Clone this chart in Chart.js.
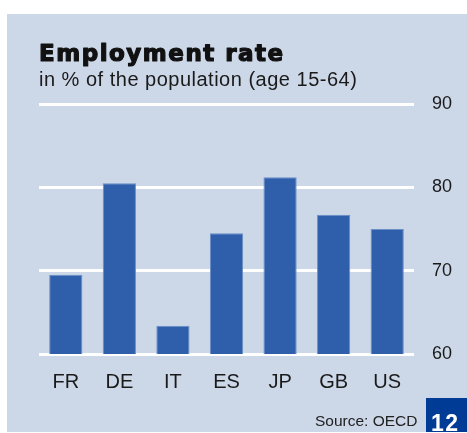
<!DOCTYPE html>
<html>
<head>
<meta charset="utf-8">
<script src="https://cdn.jsdelivr.net/npm/chart.js@4"></script>
<style>
  body { margin: 0; background: #fff; }
  #wrap { width: 467px; height: 433px; position: relative; }
</style>
</head>
<body>
<div id="wrap"><canvas id="chart"></canvas></div>
<script>
const countries = ['FR', 'DE', 'IT', 'ES', 'JP', 'GB', 'US'];
const employment = [69.5, 80.5, 63.4, 74.5, 81.2, 76.7, 75.0];
const yTicks = [60, 70, 80, 90];

const title = 'Employment rate';
const subtitle = 'in % of the population (age 15-64)';
const source = 'Source: OECD';
const pageNo = '12';

const panelBg = '#ccd7e8';
const barBlue = '#2f5eab';

// background panel, headings, source line and page box
const decor = {
  id: 'decor',
  beforeDraw(chart) {
    const ctx = chart.ctx;
    ctx.save();
    ctx.fillStyle = '#fff';
    ctx.fillRect(0, 0, chart.width, chart.height);
    ctx.fillStyle = panelBg;
    ctx.fillRect(7, 14, chart.width - 7, 418);
    ctx.restore();
  },
  afterDraw(chart) {
    const ctx = chart.ctx;
    ctx.save();
    ctx.textBaseline = 'alphabetic';
    ctx.textAlign = 'left';

    ctx.fillStyle = '#111';
    ctx.strokeStyle = '#111';
    ctx.lineWidth = 1.2;
    ctx.lineJoin = 'round';
    ctx.font = 'bold 23px "DejaVu Sans"';
    ctx.letterSpacing = '1.5px';
    ctx.fillText(title, 39, 61);
    ctx.strokeText(title, 39, 61);

    ctx.font = '20px "Liberation Sans"';
    ctx.letterSpacing = '0.5px';
    ctx.fillStyle = '#1a1a1a';
    ctx.fillText(subtitle, 39, 86);

    ctx.letterSpacing = '0px';
    ctx.font = '15.5px "Liberation Sans"';
    ctx.fillStyle = '#222';
    ctx.fillText(source, 315, 426);

    ctx.fillStyle = '#003c96';
    ctx.fillRect(426, 398, chart.width - 426, 34);
    ctx.fillStyle = '#fff';
    ctx.font = 'bold 23px "Liberation Sans"';
    ctx.letterSpacing = '1.5px';
    ctx.fillText(pageNo, 431, 431);
    ctx.restore();
  }
};

new Chart(document.getElementById('chart'), {
  type: 'bar',
  data: {
    labels: countries,
    datasets: [{
      data: employment,
      backgroundColor: barBlue,
      borderColor: '#6a8ec6',
      borderWidth: 1,
      barPercentage: 0.62,
      categoryPercentage: 1
    }]
  },
  options: {
    responsive: true,
    maintainAspectRatio: false,
    animation: false,
    layout: { padding: { left: 39, top: 104, right: 0, bottom: 0 } },
    plugins: {
      legend: { display: false },
      title: { display: false },
      tooltip: { enabled: false }
    },
    scales: {
      x: {
        grid: { display: false },
        border: { display: false },
        ticks: {
          color: '#1a1a1a',
          font: { family: 'Liberation Sans', size: 20 },
          padding: 8,
          maxRotation: 0
        },
        afterFit: s => { s.height = 79; }
      },
      y: {
        position: 'right',
        min: 60,
        max: 90,
        afterBuildTicks: s => { s.ticks = yTicks.map(v => ({ value: v })); },
        grid: { color: '#fff', lineWidth: 3, drawTicks: false },
        border: { display: false },
        ticks: {
          color: '#1a1a1a',
          font: { family: 'Liberation Sans', size: 18 },
          padding: 18
        },
        afterFit: s => { s.width = 53; }
      }
    }
  },
  plugins: [decor]
});
</script>
</body>
</html>
